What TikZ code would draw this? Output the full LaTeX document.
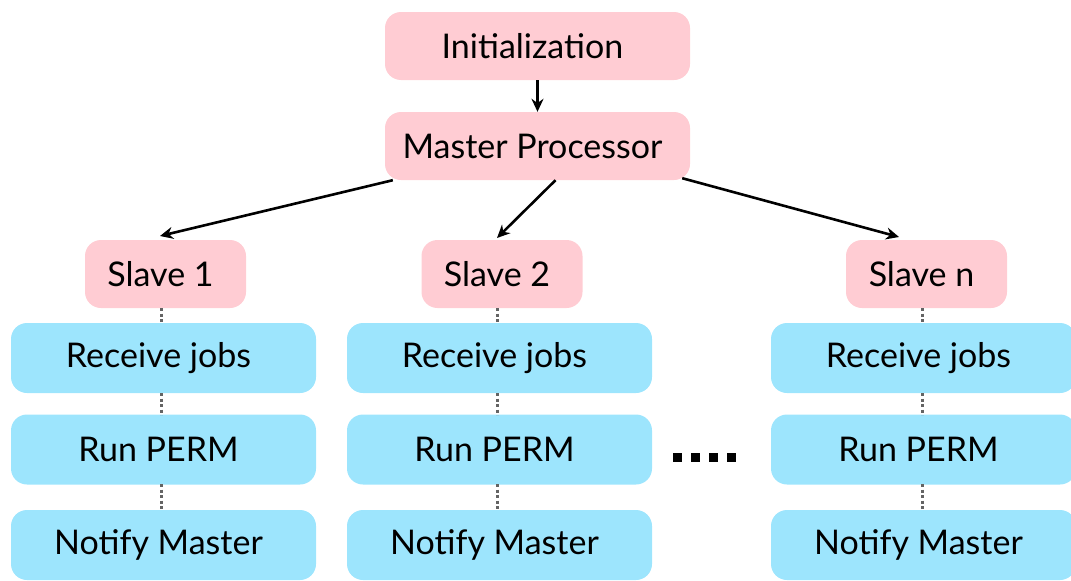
\documentclass[tikz,border=0pt]{standalone}
\usepackage{fontspec}
\setmainfont{Lato}
\usetikzlibrary{arrows.meta}
\definecolor{stagepink}{RGB}{255,204,211}
\definecolor{taskblue}{RGB}{157,229,253}
\definecolor{linkgray}{RGB}{100,100,100}
\begin{document}
\begin{tikzpicture}[x=1pt,y=-1pt,
  box/.style={rounded corners=16pt, inner sep=0pt, minimum height=68pt,
    font=\fontsize{34}{40}\selectfont, text=black,
    execute at end node={\hspace*{10pt}}},
  stage/.style={box, fill=stagepink},
  slavebox/.style={box, fill=stagepink, minimum width=161pt},
  task/.style={box, fill=taskblue, minimum width=305pt, minimum height=70pt},
  flow/.style={line width=2.6pt, -{Stealth[length=13pt,width=12pt]}},
  link/.style={linkgray, line width=3pt, dash pattern=on 3pt off 2.5pt}]
\useasboundingbox (0,0) rectangle (1071,581);

% master side
\node[stage, minimum width=305pt] (init) at (537.5,46) {Initialization};
\node[stage, minimum width=305pt] (master) at (537.5,146) {Master Processor};

% slaves
\node[slavebox] (s1) at (165.5,274) {Slave 1};
\node[slavebox] (s2) at (502,274) {Slave 2};
\node[slavebox] (sn) at (926.5,274) {Slave n};

% per-slave task stacks
\foreach \c/\x in {1/163.5, 2/499.5, n/923.5}{
  \node[task] (r\c) at (\x,358) {Receive jobs};
  \node[task] (p\c) at (\x,449.5) {Run PERM};
  \node[task] (m\c) at (\x,545) {Notify Master};
}

% dispatch arrows
\draw[flow] (init) -- (master);
\coordinate (t1) at (160,236);
\coordinate (t2) at (497,238);
\coordinate (tn) at (899,237);
\draw[flow] (master.south west) ++(8,0) coordinate (f1) (f1) -- (t1);
\draw[flow] (master.south) ++(18,0) coordinate (f2) (f2) -- (t2);
\draw[flow] (master.south east) ++(-8,-2) coordinate (fn) (fn) -- (tn);

% dotted stage links
\foreach \c/\x in {1/161, 2/497, n/922}{
  \draw[link] (\x,308) -- (\x,323);
  \draw[link] (\x,393) -- (\x,415);
  \draw[link] (\x,484) -- (\x,510);
}

% ellipsis between the slave columns
\draw[line width=9pt, dash pattern=on 9pt off 9pt] (673,457) -- (736,457);
\end{tikzpicture}
\end{document}
